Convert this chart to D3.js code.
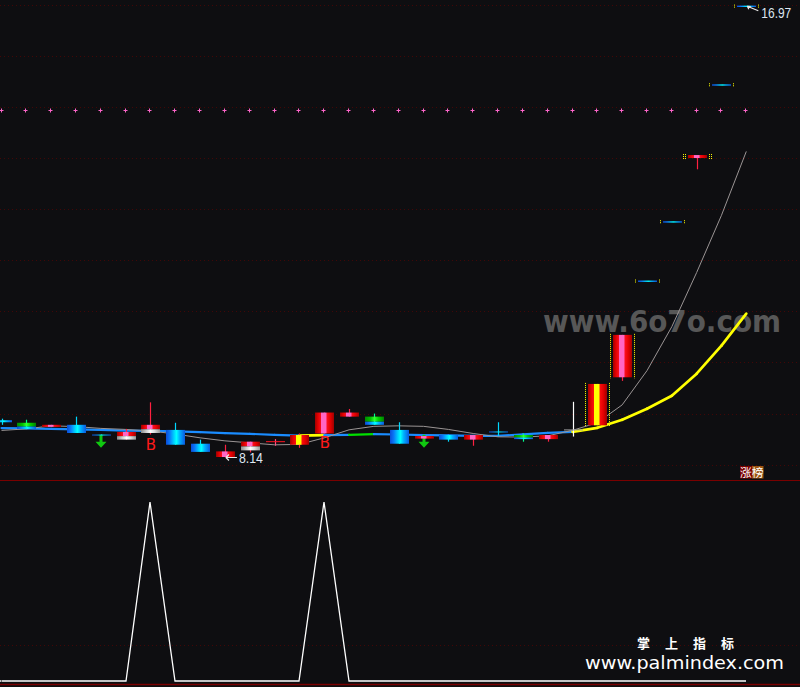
<!DOCTYPE html>
<html><head><meta charset="utf-8">
<script src="https://cdn.jsdelivr.net/npm/d3@7"></script>
<style>html,body{margin:0;padding:0;background:#0e0e11;overflow:hidden}</style>
</head><body><svg id="c" width="800" height="687"></svg>
<script>
// ---------------- data ----------------
const bars   = d3.range(31);
const opens  = [8.87,8.82,8.74,8.78,8.58,8.49,8.62,8.68,8.41,8.15,8.28,8.45,8.39,8.61,8.94,8.94,8.68,8.51,8.58,8.49,8.64,8.58,8.50,8.68,8.77,9.71,11.59,12.75,14.03,15.43,16.97];
const closes = [8.83,8.70,8.78,8.62,8.58,8.64,8.78,8.39,8.25,8.26,8.45,8.45,8.58,9.02,9.02,8.78,8.41,8.56,8.49,8.58,8.64,8.50,8.58,8.68,9.58,10.54,11.59,12.75,14.03,15.43,16.97];
const highs  = [8.90,8.88,8.78,8.94,8.59,8.70,9.22,8.82,8.49,8.39,8.45,8.50,8.61,9.02,9.09,9.00,8.83,8.56,8.58,8.58,8.83,8.61,8.58,9.23,9.58,10.54,11.59,12.75,14.03,15.43,16.97];
const lows   = [8.78,8.70,8.74,8.62,8.58,8.49,8.59,8.39,8.25,8.14,8.24,8.37,8.33,8.61,8.94,8.78,8.41,8.51,8.45,8.37,8.56,8.45,8.45,8.55,8.77,9.64,11.59,12.75,13.78,15.43,16.97];
// bar category (signal class of each bar)
const barKind = ['cyan','greenCyan','redPink','cyan','doji','redWhite','redWhite','cyan','cyan','redPink','redWhite','cross','redYellow','redPink','redPink','greenCyan','cyan','redPink','cyan','redPink','doji','greenCyan','redPink','crossWhite','redYellow','redPink','flat','flat','tee','flat','flat'];
const limitUp = bars.map(i => i >= 24);
const ma5    = [8.67,8.70,8.76,8.745,8.71,8.69,8.66,8.60,8.525,8.466,8.427,8.388,8.397,8.525,8.682,8.75,8.76,8.75,8.69,8.61,8.545,8.54,8.564,8.672,8.82,9.17,9.84,10.70,11.76,12.88,14.13];
const maLong = [8.715,8.711,8.701,8.692,8.682,8.668,8.662,8.652,8.637,8.617,8.603,8.584,8.568,8.578,8.584,8.597,8.590,8.578,8.574,8.564,8.564,8.594,8.623,8.643,8.721,8.878,9.094,9.348,9.780,10.329,10.956];
const maLongState = ['d','d','d','d','d','d','d','d','d','d','d','d','u','d','f','d','d','d','d','d','d','d','d','u','u','u','u','u','u','u'];
const plusLevel = 14.95;
const buySignal = [0,0,0,0,0,0,1,0,0,0,0,0,0,1,0,0,0,0,0,0,0,0,0,0,0,0,0,0,0,0,0];
const sellArrows = [4,17];
const arrowPrice = 8.585;
const priceGrid = [17,16,15,14,13,12,11,10,9,8];
const lowGrid = [0.2];
const hiLabel = {i:30, v:"16.97"};
const loLabel = {i:9, v:"8.14"};

// ---------------- scales ----------------
const svg = d3.select('#c');
const x = d3.scaleLinear().domain([0,30]).range([1.5,746.3]);
const y = d3.scaleLinear().domain([16.97,8]).range([6.3, 6.3+8.97*51.1]);
const yLow = d3.scaleLinear().domain([0,1]).range([681,502]);
svg.append('rect').attr('width',800).attr('height',687).attr('fill','#0e0e11');

// gradients
const defs = svg.append('defs');
function grad(id, stops){
  const g = defs.append('linearGradient').attr('id',id).attr('x1','0').attr('x2','1').attr('y1','0').attr('y2','0');
  stops.forEach(s=>g.append('stop').attr('offset',s[0]).attr('stop-color',s[1]));
}
grad('gCyan',[[0,'#0a4cd8'],[0.2,'#0a78f8'],[0.4,'#00c8ff'],[0.55,'#00ffff'],[0.72,'#00b0ff'],[1,'#0a58e0']]);
grad('gRedPink',[[0,'#a00000'],[0.15,'#e00000'],[0.33,'#ff1020'],[0.34,'#ff66c4'],[0.6,'#ff66c4'],[0.61,'#ff1020'],[0.82,'#e00000'],[1,'#a00000']]);
grad('gRedYellow',[[0,'#a00000'],[0.15,'#e00000'],[0.33,'#ff1010'],[0.34,'#ffff00'],[0.6,'#ffff00'],[0.61,'#ff1010'],[0.82,'#e00000'],[1,'#a00000']]);
grad('gWhite',[[0,'#8c8c8c'],[0.3,'#d4d4d4'],[0.5,'#ffffff'],[0.7,'#e0e0e0'],[1,'#989898']]);
grad('gGreen',[[0,'#008a00'],[0.3,'#00c400'],[0.5,'#30ff30'],[0.7,'#00d000'],[1,'#008000']]);

// grid
const grid = svg.append('g');
priceGrid.forEach(p=>{
  const yy = Math.round(y(p))+0.5;
  grid.append('line').attr('x1',0).attr('x2',800).attr('y1',yy).attr('y2',yy)
    .attr('stroke','#420707').attr('stroke-dasharray','1,3');
});
lowGrid.forEach(v=>{
  const yy = Math.round(yLow(v))+0.5;
  grid.append('line').attr('x1',0).attr('x2',800).attr('y1',yy).attr('y2',yy)
    .attr('stroke','#420707').attr('stroke-dasharray','1,3');
});
svg.append('line').attr('x1',0).attr('x2',800).attr('y1',480.5).attr('y2',480.5).attr('stroke','#7a0000');
svg.append('line').attr('x1',0).attr('x2',800).attr('y1',684.5).attr('y2',684.5).attr('stroke','#7a0000').attr('stroke-width',1.5);

// plus markers
svg.append('g').selectAll('path').data(bars).join('path')
  .attr('d',i=>{const cx=Math.round(x(i)-1)+0.5, cy=Math.round(y(plusLevel))+0.5; return `M${cx-2},${cy}H${cx+2}M${cx},${cy-2}V${cy+2}`;})
  .attr('stroke','#ff66cc').attr('stroke-width',1);

// watermark
svg.append('text').attr('x',543).attr('y',332).attr('font-family','DejaVu Sans').attr('font-weight','bold')
  .attr('font-size',30).attr('fill','#575757').attr('textLength',238).attr('lengthAdjust','spacingAndGlyphs')
  .text('www.6o7o.com');

// long MA (coloured by state)
const stateColor = {d:'#1a8cff', u:'#ffff00', f:'#00e000'};
const stateWidth = {d:2.2, u:2.7, f:2.2};
svg.append('g').selectAll('line').data(bars.slice(0,30)).join('line')
  .attr('x1',i=>x(i)).attr('x2',i=>x(i+1)).attr('y1',i=>y(maLong[i])).attr('y2',i=>y(maLong[i+1]))
  .attr('stroke',i=>stateColor[maLongState[i]]).attr('stroke-width',i=>stateWidth[maLongState[i]]).attr('stroke-linecap','round');

// MA5 grey line
svg.append('path').datum(bars).attr('fill','none').attr('stroke','#9a9494').attr('stroke-width',1)
  .attr('d', d3.line().x(i=>x(i)).y(i=>y(ma5[i])));

// sell arrows (green)
sellArrows.forEach(i=>{
  const cx = Math.round(x(i)), top = y(arrowPrice);
  svg.append('path').attr('d',`M${cx-1.5},${top}V${top+7}H${cx-5.5}L${cx},${top+13}L${cx+5.5},${top+7}H${cx+1.5}V${top}Z`)
    .attr('fill','#10c810');
});

// candles
const cg = svg.append('g');
bars.forEach(i=>{
  const k = barKind[i];
  const cx = Math.round(x(i));
  const bw = 19, left = cx-9.5+0.5;
  const o=opens[i], c=closes[i];
  let top = y(Math.max(o,c)), bot = y(Math.min(o,c));
  let minH = {flat:1.4, tee:3, doji:1, cross:1, crossWhite:1}[k] || 2;
  let h = Math.max(bot-top, minH);
  if (bot-top < minH) top = (top+bot)/2 - minH/2;
  const wickCol = {cyan:'#00d8ff',greenCyan:'#00ff90',redPink:'#ff2040',redWhite:'#ff2040',redYellow:'#ff2040',
                   doji:'#00d8ff',cross:'#ff5080',crossWhite:'#ffffff',flat:'#00d8ff',tee:'#ff2040'}[k];
  if (highs[i] > lows[i]) {
    cg.append('line').attr('x1',cx+0.5).attr('x2',cx+0.5).attr('y1',y(highs[i])).attr('y2',y(lows[i]))
      .attr('stroke',wickCol).attr('stroke-width',1.2);
  }
  if (limitUp[i]) {
    [left-2.5, left+bw+2.5].forEach(xx=>{
      cg.append('line').attr('x1',xx).attr('x2',xx).attr('y1',top-1).attr('y2',top+h+1)
        .attr('stroke','#ffff00').attr('stroke-width',1).attr('stroke-dasharray','1,1');
    });
    if (k==='tee') {
      [left-4.5, left+bw+4.5].forEach(xx=>{
        cg.append('line').attr('x1',xx).attr('x2',xx).attr('y1',top-1).attr('y2',top+h+1)
          .attr('stroke','#ffff00').attr('stroke-width',1).attr('stroke-dasharray','1,1');
      });
    }
  }
  const rect = (yy,hh,fill)=>cg.append('rect').attr('x',left).attr('y',yy).attr('width',bw).attr('height',hh).attr('fill',fill);
  if (k==='cyan' || k==='flat' || k==='doji') rect(top,h,'url(#gCyan)');
  else if (k==='redPink' || k==='tee') rect(top,h,'url(#gRedPink)');
  else if (k==='redYellow') rect(top,h,'url(#gRedYellow)');
  else if (k==='redWhite') { rect(top,h*0.55,'url(#gRedPink)'); rect(top+h*0.55,h*0.45,'url(#gWhite)'); }
  else if (k==='greenCyan') { rect(top,h*0.62,'url(#gGreen)'); rect(top+h*0.62,h*0.38,'url(#gCyan)'); }
  else if (k==='cross') rect(top,h,'#ff1020');
  else if (k==='crossWhite') rect(top,h,'#a0a0a0');
});

// buy "B" labels
bars.filter(i=>buySignal[i]).forEach(i=>{
  svg.append('text').attr('x',Math.round(x(i))+1).attr('y',y(lows[i])+15).attr('text-anchor','middle')
    .attr('font-family','DejaVu Sans').attr('font-size',15).attr('fill','#ff1a1a').text('B');
});

// high label
{
  const px = x(hiLabel.i), py = y(closes[hiLabel.i]);
  svg.append('path').attr('d',`M${px+12},${py+4.5}L${px+1},${py}M${px+1},${py}l3.5,0.2M${px+1},${py}l1.5,3`)
    .attr('stroke','#e8e8e8').attr('stroke-width',1.2).attr('fill','none');
  svg.append('text').attr('x',px+15).attr('y',py+12).attr('font-family','Liberation Sans').attr('font-size',15)
    .attr('fill','#dfe6f2').attr('textLength',30).attr('lengthAdjust','spacingAndGlyphs').text(hiLabel.v);
}
// low label
{
  const px = x(loLabel.i), py = y(lows[loLabel.i]);
  svg.append('path').attr('d',`M${px+12},${py}H${px+1}M${px+1},${py}l3,-3M${px+1},${py}l3,3`)
    .attr('stroke','#e8e8e8').attr('stroke-width',1.2).attr('fill','none');
  svg.append('text').attr('x',px+14).attr('y',py+5).attr('font-family','Liberation Sans').attr('font-size',14)
    .attr('fill','#dfe6f2').attr('textLength',24).attr('lengthAdjust','spacingAndGlyphs').text(loLabel.v);
}

// 涨榜 badge
svg.append('rect').attr('x',740).attr('y',466).attr('width',12).attr('height',12.5).attr('fill','#7a0000');
svg.append('rect').attr('x',752).attr('y',466).attr('width',11.5).attr('height',12.5).attr('fill','#9a5410');
svg.append('text').attr('x',740).attr('y',476.5).attr('font-family','Noto Sans CJK SC').attr('font-size',11.5)
  .attr('fill','#ffffff').attr('textLength',23.5).attr('lengthAdjust','spacingAndGlyphs').text('涨榜');

// lower indicator
svg.append('path').datum(bars).attr('fill','none').attr('stroke','#ffffff').attr('stroke-width',1.3)
  .attr('d', d3.line().x(i=>Math.round(x(i))).y(i=>yLow(buySignal[i])));
svg.append('line').attr('x1',0).attr('x2',x(0)).attr('y1',yLow(0)).attr('y2',yLow(0)).attr('stroke','#fff').attr('stroke-width',1.3);

// footer watermark
svg.append('text').attr('x',637).attr('y',647.5).attr('font-family','Noto Sans CJK SC').attr('font-weight','bold')
  .attr('font-size',13).attr('fill','#ffffff').attr('textLength',97).attr('lengthAdjust','spacing').text('掌上指标');
svg.append('text').attr('x',585).attr('y',668.5).attr('font-family','DejaVu Sans').attr('font-size',18)
  .attr('fill','#ffffff').attr('textLength',199).attr('lengthAdjust','spacingAndGlyphs').text('www.palmindex.com');
</script></body></html>
